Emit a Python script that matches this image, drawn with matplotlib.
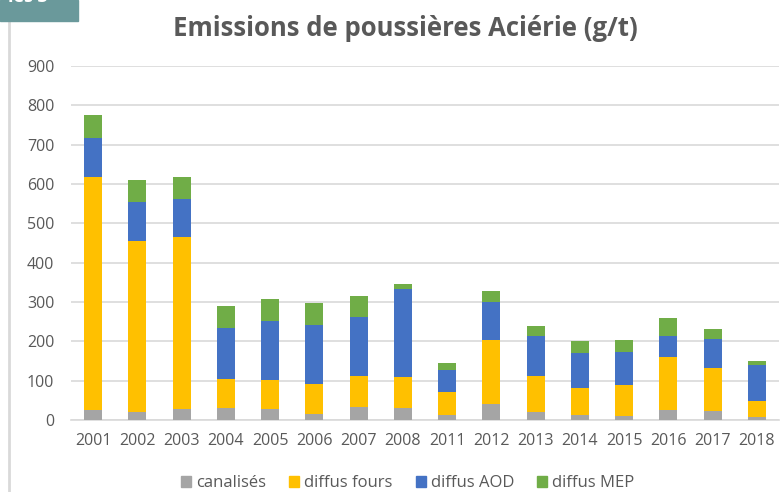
import numpy as np
import matplotlib.pyplot as plt
from matplotlib.patches import Rectangle
from matplotlib.lines import Line2D

plt.rcParams['font.family'] = ['Open Sans', 'DejaVu Sans']

# Dust emissions per source (g/t)
years = ["2001", "2002", "2003", "2004", "2005", "2006", "2007", "2008",
         "2011", "2012", "2013", "2014", "2015", "2016", "2017", "2018"]
canalises = [25, 20, 27, 30, 27, 15, 34, 31, 12, 41, 20, 13, 10, 25, 23, 8]
diffus_fours = [594, 436, 438, 74, 75, 77, 77, 78, 58, 162, 91, 69, 79, 135, 110, 41]
diffus_aod = [99, 99, 98, 131, 150, 150, 150, 224, 56, 98, 102, 89, 85, 53, 73, 92]
diffus_mep = [58, 56, 55, 55, 55, 55, 55, 12, 19, 27, 26, 29, 29, 47, 26, 9]

series = [("canalisés", canalises, "#A5A5A5"),
          ("diffus fours", diffus_fours, "#FFC000"),
          ("diffus AOD", diffus_aod, "#4472C4"),
          ("diffus MEP", diffus_mep, "#70AD47")]

fig = plt.figure(figsize=(7.81, 4.92), dpi=100)
ax = fig.add_axes([0.0909, 0.1463, 0.9065, 0.7196])

x = np.arange(len(years))
bottom = np.zeros(len(years))
for name, vals, col in series:
    ax.bar(x, vals, width=0.41, bottom=bottom, color=col, label=name, zorder=3)
    bottom += np.array(vals)

ax.set_ylim(0, 900)
ax.set_xlim(-0.5, len(years) - 0.5)
ax.set_yticks(range(0, 901, 100))
ax.set_xticks(x)
ax.set_xticklabels(years)
ax.grid(axis='y', color='#D9D9D9', linewidth=1.2, zorder=0)
for s in ['top', 'right', 'left']:
    ax.spines[s].set_visible(False)
ax.spines['bottom'].set_color('#D9D9D9')
ax.spines['bottom'].set_linewidth(1.2)
ax.tick_params(axis='both', length=0, colors='#595959', labelsize=11.5)
ax.tick_params(axis='y', pad=12)
ax.tick_params(axis='x', pad=9)

fig.text(0.519, 0.943, "Emissions de poussières Aciérie (g/t)", ha='center', va='center',
         fontsize=18.5, fontweight='bold', color='#595959')

handles = [Rectangle((0, 0), 1, 1, color=c) for _, _, c in series]
fig.legend(handles, [n for n, _, _ in series], loc='center', bbox_to_anchor=(0.522, 0.018),
           ncol=4, frameon=False, fontsize=12, handlelength=0.6, handleheight=0.6,
           columnspacing=1.4, handletextpad=0.3, labelcolor='#595959')

# header tab and side rule
fig.patches.append(Rectangle((0, 1 - 21 / 492), 78 / 781, 21 / 492, transform=fig.transFigure,
                             color='#6A999B', zorder=5))
fig.text(0.01, 1 - 2 / 492, "les 3", color='white', fontsize=13, fontweight='bold',
         ha='left', va='baseline', zorder=6)
fig.lines.append(Line2D([8.5 / 781, 8.5 / 781], [0, 1 - 22 / 492], transform=fig.transFigure,
                        color='#D9D9D9', linewidth=2))

fig.savefig("out.png", dpi=100)
